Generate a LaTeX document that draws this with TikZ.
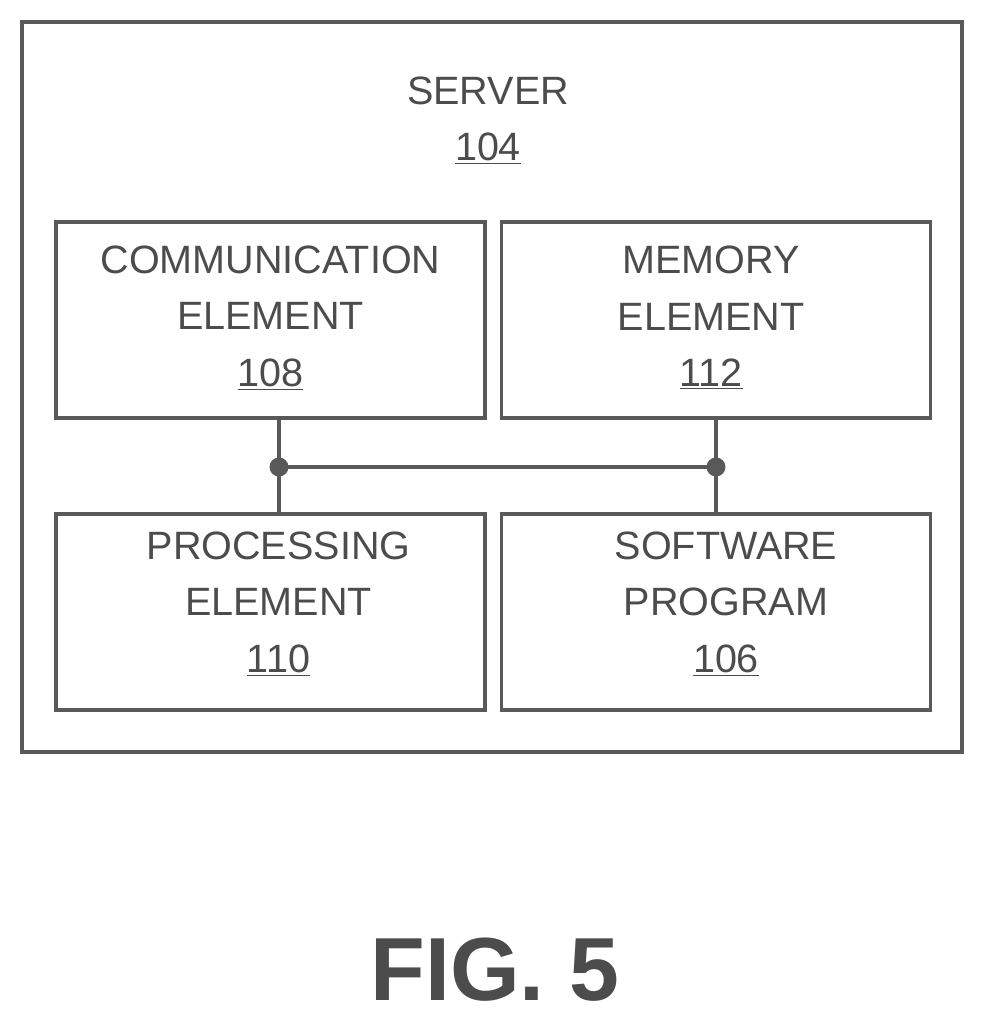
\documentclass[tikz,border=0pt]{standalone}
\usepackage{fontspec}
\setmainfont{Liberation Sans}
\usetikzlibrary{calc}
\begin{document}
\begin{tikzpicture}
			[x=0.02cm,y=-0.02cm,line cap=round,
			%Styles
			frame/.style={draw=black!65,line width=2.2pt},
			element/.style={draw=black!65,line width=2.2pt,minimum width=8.58cm,minimum height=3.92cm,inner sep=0pt},
			label text/.style={text=black!70,font=\fontsize{22.5}{32}\selectfont,align=center},
			bus/.style={draw=black!65,line width=1.8pt},
			dot/.style={circle,fill=black!65,inner sep=0pt,minimum size=0.38cm}
			]
			
			%The graphic
			\useasboundingbox (0,0) rectangle (984,1026);
			\node[frame,minimum width=18.8cm,minimum height=14.6cm] (server) at (492,387) {};
			\node[label text] (title) at (488,121) {SERVER\\\underline{104}};
			
			\node[element] (comm) at (270.5,320) {};
			\node[element] (mem) at (716,320) {};
			\node[element] (proc) at (270.5,612) {};
			\node[element] (soft) at (716,612) {};
			
			\node[label text] at ($(comm.center)+(0,-2)$) {COMMUNICATION\\ELEMENT\\\underline{108}};
			\node[label text] at ($(mem.center)+(-5,-2)$) {MEMORY\\ELEMENT\\\underline{112}};
			\node[label text] at ($(proc.center)+(8,-8)$) {PROCESSING\\ELEMENT\\\underline{110}};
			\node[label text] at ($(soft.center)+(10,-8)$) {SOFTWARE\\PROGRAM\\\underline{106}};
			
			\coordinate (jl) at (279,467);
			\coordinate (jr) at (716,467);
			\draw[bus] (comm.south -| jl) -- (jl) -- (proc.north -| jl);
			\draw[bus] (mem.south -| jr) -- (jr) -- (soft.north -| jr);
			\draw[bus] (jl) -- (jr);
			\node[dot] at (jl) {};
			\node[dot] at (jr) {};
			
			\node[text=black!70,font=\bfseries\fontsize{51}{56}\selectfont] (fig) at (495,970) {FIG. 5};
		\end{tikzpicture}
\end{document}
